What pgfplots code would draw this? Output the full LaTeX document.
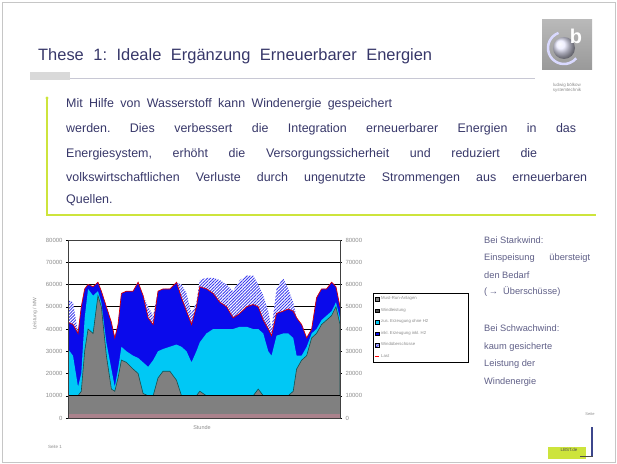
\documentclass[border=0pt]{standalone}
\usepackage{pgfplots}
\pgfplotsset{compat=1.18}
\usepackage{pgfplotstable}
\usepackage{fontspec}
\setmainfont{Liberation Sans}
\usetikzlibrary{patterns.meta}
\definecolor{txt}{RGB}{55,55,105}
\definecolor{txt2}{RGB}{95,95,135}
\definecolor{limec}{RGB}{205,228,60}
\definecolor{cgray}{RGB}{128,128,128}
\definecolor{ccyan}{RGB}{0,200,245}
\definecolor{cblue}{RGB}{10,10,235}
\definecolor{cpink}{RGB}{170,130,140}
\definecolor{tickc}{RGB}{140,140,140}
\definecolor{cteal}{RGB}{20,80,80}
\definecolor{navyc}{RGB}{60,70,140}
\pgfplotstableread{
h G C B H
0 10000 31000 43000 53000
3.1 10000 28000 42000 52000
6.2 10000 14000 38000 38000
8.2 12000 20000 50000 50000
10.3 30000 45000 58000 58000
12.4 40000 58000 60000 60000
15.5 38000 55000 59000 59000
18.5 55000 57000 61000 61000
20.6 50000 52000 57000 57000
23.7 28000 34000 50000 50000
26.8 13000 22000 43000 43000
28.9 12000 14000 36000 36000
30.9 18000 22000 42000 42000
33.0 26000 32000 56000 56000
36.1 25000 30000 57000 57000
40.2 22000 28000 57000 57000
43.3 20000 27000 61000 61000
46.4 11000 25000 55000 55000
49.5 10000 23000 45000 50000
52.6 10000 26000 42000 46000
55.6 18000 30000 57000 57000
58.7 21000 31000 58000 58000
62.9 21000 32000 58000 58000
67.0 17000 33000 61000 61000
70.1 10000 32000 54000 60000
73.2 10000 30000 48000 56000
76.3 10000 25000 42000 47000
79.3 10000 30000 50000 52000
81.4 12000 34000 59000 62000
85.5 10000 38000 58000 63000
89.7 10000 40000 56000 63000
93.8 10000 40000 52000 62000
97.9 10000 40000 50000 60000
102.0 10000 40000 45000 57000
106.1 10000 41000 47000 62000
110.3 10000 41000 50000 64000
114.4 10000 40000 51000 64000
117.5 13000 40000 50000 60000
120.6 10000 38000 44000 55000
123.7 10000 30000 40000 48000
125.7 10000 28000 37000 40000
128.8 10000 37000 47000 58000
132.9 10000 38000 48000 63000
136.0 10000 38000 49000 58000
139.1 12000 36000 48000 52000
141.2 22000 28000 45000 45000
144.3 26000 28000 42000 42000
147.4 28000 32000 36000 36000
150.5 36000 38000 40000 40000
153.5 38000 40000 54000 54000
156.6 42000 44000 58000 58000
159.7 44000 46000 58000 58000
162.8 46000 48000 61000 61000
165.5 50000 52000 59000 59000
168 42000 45000 50000 50000
}\wind
\begin{document}
\frenchspacing
\begin{tikzpicture}
\path[use as bounding box] (0,0) rectangle (617bp,464bp);
\begin{scope}[x=1bp,y=1bp]
\draw[gray!45, line width=0.6bp] (2,2) rectangle (615,462);
% title
\node[anchor=west, text=txt, font=\fontsize{16.5}{18}\selectfont, inner sep=0] at (38,408)
  {\makebox[394bp][s]{These 1: Ideale Ergänzung Erneuerbarer Energien}};
\fill[gray!30] (30,384) rectangle (70,392);
\draw[draw={rgb,255:red,200;green,200;blue,212}, line width=0.8bp] (70,386) -- (535,386);
% logo
\shade[top color=gray!55, bottom color=gray!80] (542,394) rectangle (592,444);
\shade[ball color=blue!8!white] (564,416) circle (11);
\draw[white!85!blue, line width=2.5bp] (564,416) ++(110:16) arc (110:320:16);
\node[white, font=\bfseries\fontsize{20}{20}\selectfont] at (576,428) {b};
\node[text=tickc, font=\fontsize{4.5}{5}\selectfont, align=center] at (567,376) {ludwig bölkow\\systemtechnik};
% green bracket
\draw[limec, line width=1.6bp] (47,366) -- (47,249) -- (596,249);
\fill[limec] (47,366) circle (1.6);
% body text
\begin{scope}[every node/.style={anchor=west, text=txt, font=\fontsize{12.5}{15}\selectfont, inner sep=0}]
\node at (66,360) {\makebox[326bp][s]{Mit Hilfe von Wasserstoff kann Windenergie gespeichert}};
\node at (66,335) {\makebox[510bp][s]{werden. Dies verbessert die Integration erneuerbarer Energien in das}};
\node at (66,310) {\makebox[471bp][s]{Energiesystem, erhöht die Versorgungssicherheit und reduziert die}};
\node at (66,286) {\makebox[521bp][s]{volkswirtschaftlichen Verluste durch ungenutzte Strommengen aus erneuerbaren}};
\node at (66,264) {Quellen.};
\end{scope}
% right text
\begin{scope}[every node/.style={anchor=west, text=txt2, font=\fontsize{9.3}{11}\selectfont, inner sep=0}]
\node at (484,224) {Bei Starkwind:};
\node at (484,206) {\makebox[106bp][s]{Einspeisung übersteigt}};
\node at (484,189) {den Bedarf};
\node at (484,172) {(\,→\; Überschüsse)};
\node at (484,136) {Bei Schwachwind:};
\node at (484,117) {kaum gesicherte};
\node at (484,100) {Leistung der};
\node at (484,82) {Windenergie};
\end{scope}
% chart labels
\node[rotate=90, text=tickc, font=\fontsize{5}{6}\selectfont] at (35,150) {Leistung / MW};
\node[text=tickc, font=\fontsize{5.5}{6}\selectfont] at (202,36) {Stunde};
% footer
\node[text=tickc, font=\fontsize{4.5}{5}\selectfont] at (55,17) {Seite 1};
\fill[limec] (548,5) rectangle (586,17);
\node[text=black!70, font=\fontsize{4.5}{5}\selectfont] at (569,14) {LBST.de};
\draw[navyc, line width=1.3bp] (592,8) -- (592,37);
\draw[black!70, line width=1bp] (580,8) -- (593,8);
\node[text=tickc, font=\fontsize{4}{5}\selectfont] at (590,50) {Seite};
\end{scope}

\begin{axis}[
  at={(68bp,46bp)}, anchor=south west, scale only axis,
  width=272bp, height=178bp,
  xmin=0, xmax=168, ymin=0, ymax=80000,
  xtick=\empty,
  ytick={0,10000,...,80000},
  scaled y ticks=false,
  /pgf/number format/assume math mode=true,
  yticklabel style={/pgf/number format/1000 sep={}, font=\fontsize{6}{6}\selectfont, text=tickc},
  ytick pos=left, tick align=outside, major tick length=2bp,
  axis line style={draw=none},
  legend style={at={(1.121,0.702)}, anchor=north west, draw=black, line width=0.7pt,
     fill=white, font=\fontsize{4.3}{5}\selectfont, text=tickc, inner sep=1.5pt,
     row sep=2.9bp, cells={anchor=west}},
  legend image code/.code={\draw[#1, draw=black, line width=0.3pt] (0bp,-1.8bp) rectangle (3.6bp,1.8bp);},
]
% grid lines behind the areas
\foreach \v in {20000,30000,40000,50000,60000,70000}{
  \edef\tmp{\noexpand\addplot[black, line width=0.9pt, forget plot] coordinates {(0,\v) (168,\v)};}\tmp
}
\addplot[draw=none, fill=white, postaction={pattern={Lines[angle=45,distance=2.2pt,line width=0.9pt]}, pattern color=cblue!80!white}, forget plot] table[x=h,y=H]{\wind} \closedcycle;
\addplot[draw=none, fill=cblue, forget plot] table[x=h,y=B]{\wind} \closedcycle;
\addplot[draw=none, fill=ccyan, forget plot] table[x=h,y=C]{\wind} \closedcycle;
\addplot[draw=cteal, line width=0.6pt, fill=cgray, forget plot] table[x=h,y=G]{\wind} \closedcycle;
\addplot[draw=none, fill=cgray, forget plot] coordinates {(0,10000) (168,10000)} \closedcycle;
\addplot[draw=none, fill=cpink, forget plot] coordinates {(0,2000) (168,2000)} \closedcycle;
\addplot[black, line width=0.9pt, forget plot] coordinates {(0,10000) (168,10000)};
\addplot[red!85!black, line width=0.7pt, forget plot] table[x=h,y=B]{\wind};
% legend
\addlegendimage{fill=cgray}
\addlegendentry{\makebox[84bp][l]{Must-Run-Anlagen}}
\addlegendimage{fill=cgray!60!black}
\addlegendentry{Windleistung}
\addlegendimage{fill=ccyan}
\addlegendentry{zus. Erzeugung ohne H2}
\addlegendimage{fill=cblue}
\addlegendentry{inkl. Erzeugung inkl. H2}
\addlegendimage{fill=white, postaction={pattern={Lines[angle=45,distance=1.2pt,line width=0.5pt]}, pattern color=cblue}}
\addlegendentry{Windüberschüsse}
\addlegendimage{legend image code/.code={\draw[red, line width=0.8pt] (0bp,0bp) -- (3.6bp,0bp);}}
\addlegendentry{Last}
\end{axis}

\begin{axis}[
  at={(68bp,46bp)}, anchor=south west, scale only axis,
  width=272bp, height=178bp,
  xmin=0, xmax=168, ymin=0, ymax=80000,
  xtick=\empty,
  ytick={0,10000,...,80000},
  scaled y ticks=false,
  /pgf/number format/assume math mode=true,
  yticklabel style={/pgf/number format/1000 sep={}, font=\fontsize{6}{6}\selectfont, text=tickc},
  ytick pos=both, yticklabel pos=right, tick align=outside, major tick length=2bp,
  tick style={black, line width=0.5pt},
  axis line style={black!75, line width=0.7pt},
]
\addplot[draw=none] coordinates {(0,0)};
\end{axis}
\end{tikzpicture}
\end{document}
